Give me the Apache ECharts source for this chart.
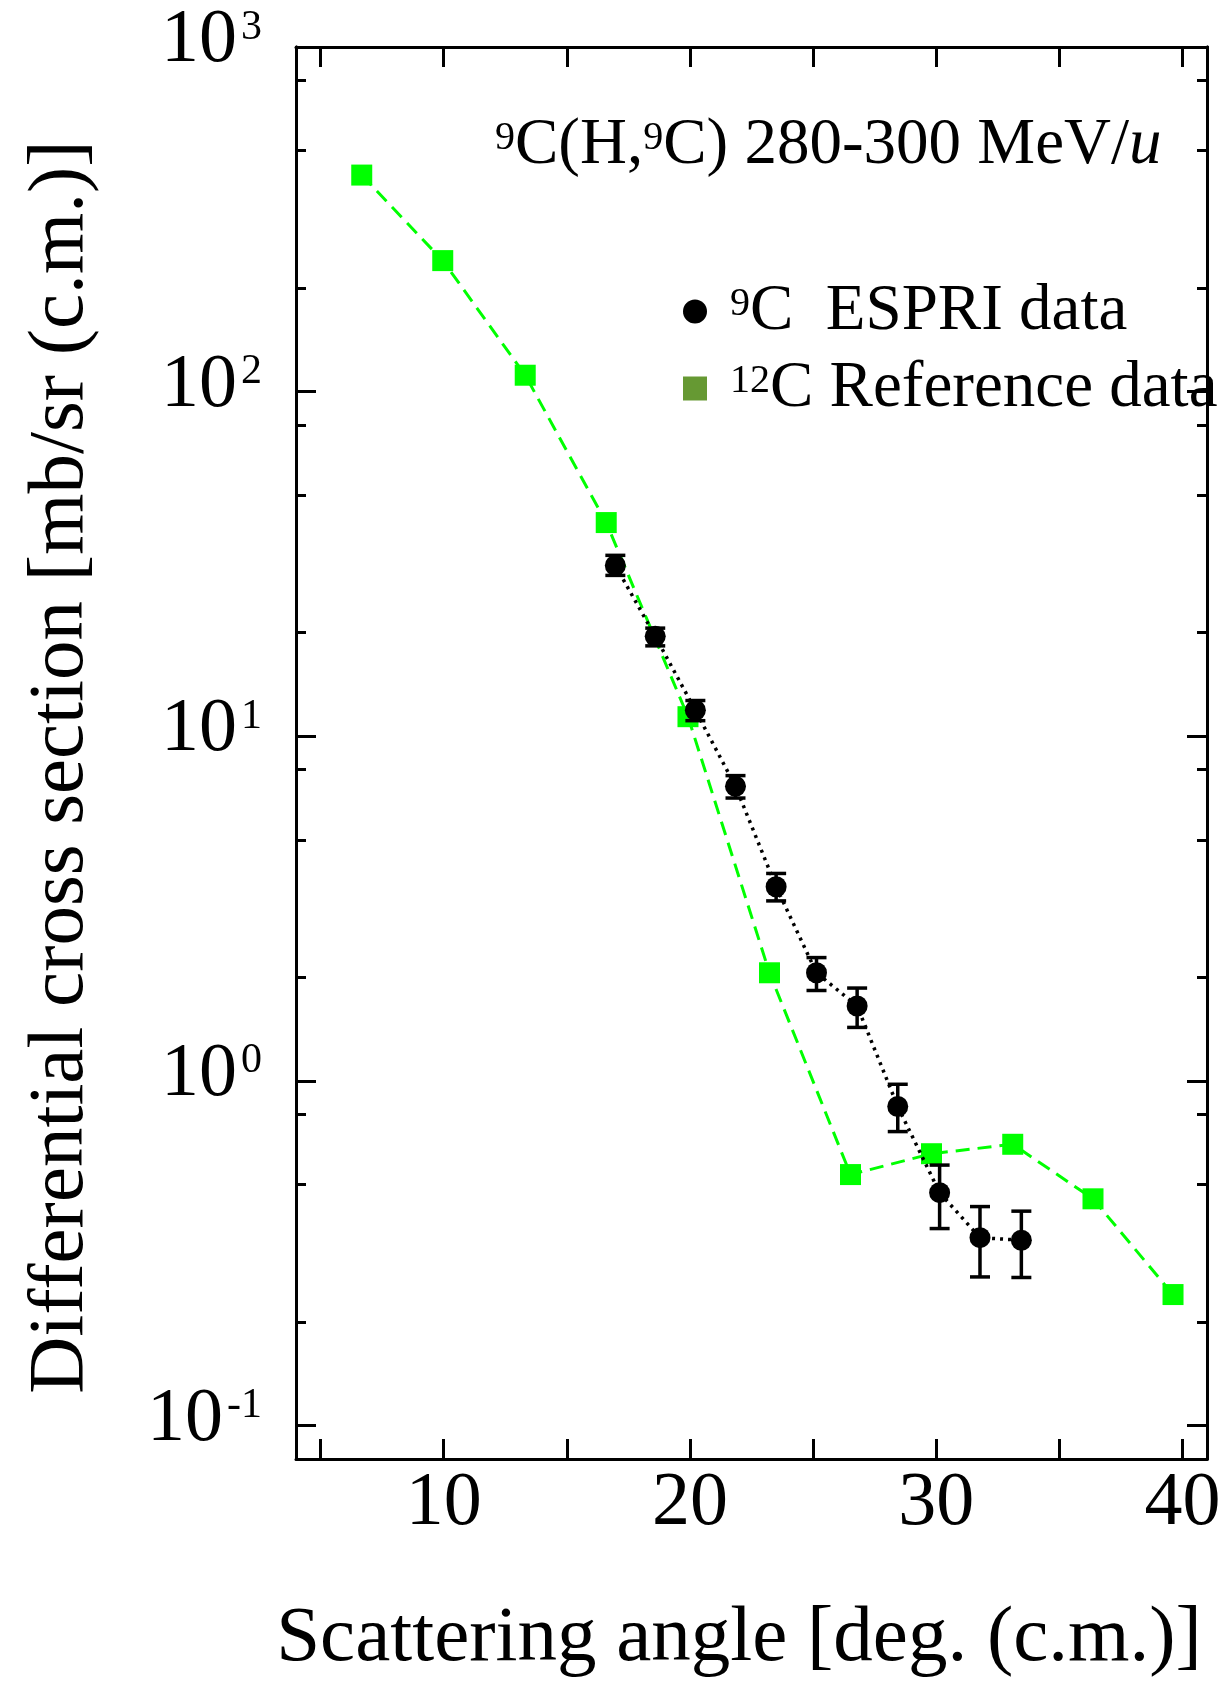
<!DOCTYPE html>
<html>
<head>
<meta charset="utf-8">
<script src="https://cdn.jsdelivr.net/npm/echarts@6/dist/echarts.min.js"></script>
<style>
  html, body { margin: 0; padding: 0; background: #fff; }
  #chart { width: 1220px; height: 1686px; }
</style>
</head>
<body>
<div id="chart"></div>
<script>
// 12C reference data (green squares)
const angle12C = [6.67, 9.96, 13.31, 16.60, 19.92, 23.23, 26.52, 29.81, 33.11, 36.37, 39.62];
const sigma12C = [425, 240, 111.6, 41.7, 11.4, 2.06, 0.535, 0.615, 0.655, 0.455, 0.240];

// 9C ESPRI data (black circles) with error bars
const angle9C = [16.97, 18.59, 20.22, 21.85, 23.50, 25.14, 26.79, 28.44, 30.14, 31.78, 33.46];
const sigma9C = [31.3, 19.5, 11.9, 7.16, 3.66, 2.06, 1.65, 0.843, 0.474, 0.351, 0.345];
const errLow9C = [29.3, 18.3, 11.1, 6.62, 3.33, 1.83, 1.43, 0.713, 0.373, 0.270, 0.269];
const errHigh9C = [33.5, 20.6, 12.7, 7.69, 4.00, 2.28, 1.86, 0.978, 0.570, 0.432, 0.419];

// ticks
const xTicks = [5, 10, 15, 20, 25, 30, 35, 40];
const xLabels = [10, 20, 30, 40];
const yMajor = [0.1, 1, 10, 100, 1000];
const yMinor = [0.2, 0.5, 0.8, 2, 5, 8, 20, 50, 80, 200, 500, 800];

const font = 'Liberation Serif';
// log10, rounded so the axis ends are hit exactly
const lg = v => Math.round(Math.log10(v) * 1e9) / 1e9;
const yMin = lg(0.08), yMax = 3;

const axisLine = { show: true, onZero: false, lineStyle: { color: '#000', width: 3 } };

function xAxisDef(pos, showLabel) {
  const ax = {
    type: 'value', position: pos, min: 4, max: 41,
    axisLine: axisLine,
    axisTick: { show: true, inside: true, length: 20, customValues: xTicks, lineStyle: { color: '#000', width: 3 } },
    axisLabel: { show: false },
    splitLine: { show: false }
  };
  if (showLabel) {
    ax.axisLabel = {
      show: true, customValues: xLabels, margin: 7,
      fontFamily: font, fontSize: 76, lineHeight: 76, color: '#000'
    };
    ax.name = 'Scattering angle [deg. (c.m.)]';
    ax.nameLocation = 'middle';
    ax.nameGap = 141;
    ax.nameTextStyle = { fontFamily: font, fontSize: 79, lineHeight: 79, color: '#000', padding: [0, 25, 0, 0] };
  }
  return ax;
}

function yAxisDef(pos, ticks, len, showLabel) {
  const ax = {
    type: 'value', position: pos, min: yMin, max: yMax,
    axisLine: axisLine,
    axisTick: { show: true, inside: true, length: len, customValues: ticks.map(lg), lineStyle: { color: '#000', width: 3 } },
    axisLabel: { show: false },
    splitLine: { show: false }
  };
  if (showLabel) {
    ax.axisLabel = {
      show: true, customValues: yMajor.map(lg), margin: 34,
      formatter: v => '{b|10}{s|' + Math.round(v) + '}',
      rich: {
        b: { fontFamily: font, fontSize: 76, lineHeight: 76, color: '#000', padding: [0, 0, 12, 0] },
        s: { fontFamily: font, fontSize: 42, lineHeight: 42, color: '#000', padding: [0, 0, 39, 4] }
      }
    };
    ax.name = 'Differential cross section [mb/sr (c.m.)]';
    ax.nameLocation = 'middle';
    ax.nameGap = 195;
    ax.nameTextStyle = { fontFamily: font, fontSize: 79, lineHeight: 79, color: '#000', padding: [0, 28, 0, 0] };
  }
  return ax;
}

const chart = echarts.init(document.getElementById('chart'));
chart.setOption({
  backgroundColor: '#fff',
  animation: false,
  title: {
    text: '{s|9}{b|C(H,}{s|9}{b|C) 280-300 MeV/}{i|u}',
    left: 495, top: 113, padding: 0,
    textStyle: {
      fontWeight: 'normal',
      rich: {
        b: { fontFamily: font, fontSize: 65, lineHeight: 65, color: '#000', fontWeight: 'normal' },
        i: { fontFamily: font, fontSize: 65, lineHeight: 65, color: '#000', fontWeight: 'normal', fontStyle: 'italic' },
        s: { fontFamily: font, fontSize: 40, lineHeight: 40, color: '#000', fontWeight: 'normal', padding: [0, 0, 15, 0] }
      }
    }
  },
  legend: {
    orient: 'vertical', left: 683, top: 279, padding: 0,
    itemWidth: 24, itemHeight: 24, itemGap: 12,
    selectedMode: false,
    data: [
      { name: 'ESPRI', icon: 'circle', itemStyle: { color: '#000' } },
      { name: 'Reference', icon: 'rect', itemStyle: { color: '#669933' } }
    ],
    formatter: n => n === 'ESPRI' ? '{s|9}{b|C  ESPRI data}' : '{s|12}{b|C Reference data}',
    textStyle: {
      rich: {
        b: { fontFamily: font, fontSize: 65, lineHeight: 65, color: '#000' },
        s: { fontFamily: font, fontSize: 40, lineHeight: 40, color: '#000', padding: [0, 0, 15, 18] }
      }
    }
  },
  grid: { left: 296, right: 13, top: 47, bottom: 227, containLabel: false, outerBoundsMode: 'none' },
  xAxis: [xAxisDef('bottom', true), xAxisDef('top', false)],
  yAxis: [
    yAxisDef('left', yMajor, 20, true),
    yAxisDef('left', yMinor, 10, false),
    yAxisDef('right', yMajor, 20, false),
    yAxisDef('right', yMinor, 10, false)
  ],
  series: [
    {
      name: 'Reference', type: 'line', xAxisIndex: 0, yAxisIndex: 0,
      data: angle12C.map((x, i) => [x, lg(sigma12C[i])]),
      symbol: 'rect', symbolSize: 21,
      itemStyle: { color: '#00ff00' },
      lineStyle: { color: '#00ff00', width: 3, type: [14, 8] },
      z: 2
    },
    {
      type: 'custom', xAxisIndex: 0, yAxisIndex: 0, silent: true, z: 3,
      data: angle9C.map((x, i) => [x, lg(errLow9C[i]), lg(errHigh9C[i])]),
      encode: { x: 0, y: [1, 2] },
      renderItem: function (params, api) {
        const lo = api.coord([api.value(0), api.value(1)]);
        const hi = api.coord([api.value(0), api.value(2)]);
        const w = 10;
        const st = () => ({ stroke: '#000', lineWidth: 3.5 });
        return {
          type: 'group',
          children: [
            { type: 'line', shape: { x1: lo[0], y1: lo[1], x2: hi[0], y2: hi[1] }, style: st() },
            { type: 'line', shape: { x1: lo[0] - w, y1: lo[1], x2: lo[0] + w, y2: lo[1] }, style: st() },
            { type: 'line', shape: { x1: hi[0] - w, y1: hi[1], x2: hi[0] + w, y2: hi[1] }, style: st() }
          ]
        };
      }
    },
    {
      name: 'ESPRI', type: 'line', xAxisIndex: 0, yAxisIndex: 0,
      data: angle9C.map((x, i) => [x, lg(sigma9C[i])]),
      symbol: 'circle', symbolSize: 21,
      itemStyle: { color: '#000' },
      lineStyle: { color: '#000', width: 3.5, type: [3, 5] },
      z: 4
    }
  ]
});
</script>
</body>
</html>
